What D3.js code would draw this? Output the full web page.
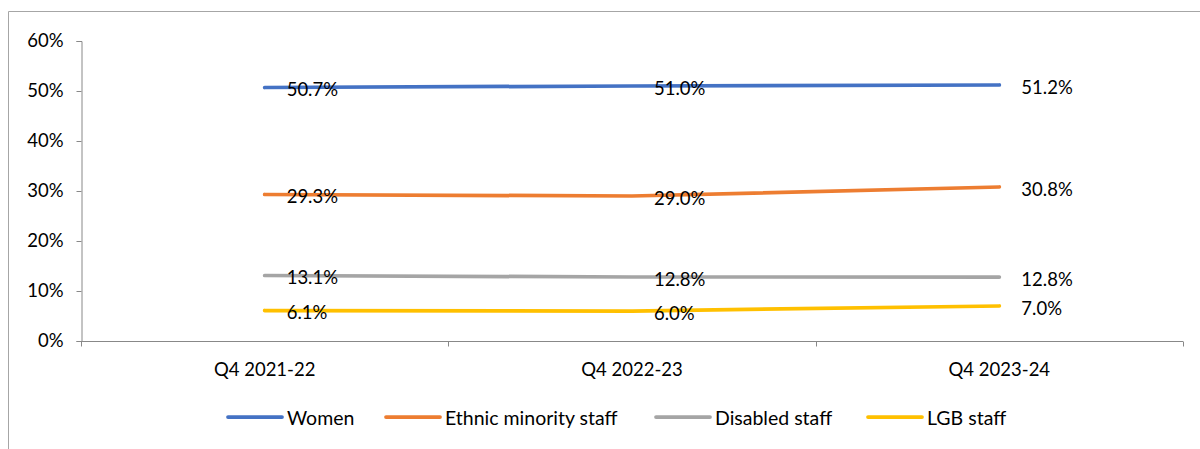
<!DOCTYPE html>
<html>
<head>
<meta charset="utf-8">
<script src="https://cdn.jsdelivr.net/npm/d3@7"></script>
<style>
  html, body { margin: 0; padding: 0; background: #fff; }
  svg { display: block; font-family: Lato, "Open Sans", sans-serif; }
</style>
</head>
<body>
<svg id="chart" width="1200" height="449"></svg>
<script>
// Staff representation by quarter
const categories = ["Q4 2021-22", "Q4 2022-23", "Q4 2023-24"];
const seriesNames = ["Women", "Ethnic minority staff", "Disabled staff", "LGB staff"];
const women = [50.7, 51.0, 51.2];
const ethnicMinority = [29.3, 29.0, 30.8];
const disabled = [13.1, 12.8, 12.8];
const lgb = [6.1, 6.0, 7.0];
const yTicks = [0, 10, 20, 30, 40, 50, 60];
const colors = ["#4472C4", "#ED7D31", "#A5A5A5", "#FFC000"];

const series = [women, ethnicMinority, disabled, lgb].map((values, i) => ({
  name: seriesNames[i], values, color: colors[i]
}));

const svg = d3.select("#chart");
const axisColor = "#888888";
const fontSize = 18.5;
const legendFontSize = 19.5;
const plot = { left: 81, right: 1183, top: 41, bottom: 341 };

// Outer chart frame (top and left edges visible)
svg.append("path")
  .attr("d", "M8.5,449 L8.5,11.5 L1200,11.5")
  .attr("fill", "none")
  .attr("stroke", "#a6a6a6")
  .attr("stroke-width", 1);

const x = d3.scaleBand().domain(categories).range([plot.left, plot.right]).padding(0);
const y = d3.scaleLinear().domain([0, 60]).range([plot.bottom, plot.top]);
const cx = c => x(c) + x.bandwidth() / 2;

// Y axis
const yAxis = svg.append("g")
  .attr("transform", `translate(${plot.left + 0.5},0)`)
  .call(d3.axisLeft(y).tickValues(yTicks).tickSize(5).tickPadding(13)
    .tickFormat(d => d + "%"));
yAxis.select(".domain").attr("stroke", axisColor);
yAxis.selectAll(".tick line").attr("stroke", axisColor);
yAxis.selectAll(".tick text").attr("fill", "#000").attr("font-size", fontSize)
  .attr("font-family", "Lato, sans-serif");

// X axis with ticks at category boundaries
const xg = svg.append("g").attr("transform", `translate(0,${plot.bottom + 0.5})`);
xg.append("line")
  .attr("x1", plot.left).attr("x2", plot.right)
  .attr("stroke", axisColor);
const boundaries = categories.map(c => x(c)).concat([x(categories[categories.length - 1]) + x.bandwidth()]);
xg.selectAll("line.tick").data(boundaries).enter().append("line")
  .attr("class", "tick")
  .attr("x1", d => Math.round(d) + 0.5).attr("x2", d => Math.round(d) + 0.5)
  .attr("y1", 0).attr("y2", 5)
  .attr("stroke", axisColor);
xg.selectAll("text").data(categories).enter().append("text")
  .attr("x", d => cx(d))
  .attr("y", 34)
  .attr("text-anchor", "middle")
  .attr("font-size", fontSize)
  .attr("fill", "#000")
  .text(d => d);

// Series lines
const line = d3.line()
  .x((d, i) => cx(categories[i]))
  .y(d => y(d));

svg.selectAll("path.series").data(series).enter().append("path")
  .attr("class", "series")
  .attr("d", d => line(d.values))
  .attr("fill", "none")
  .attr("stroke", d => d.color)
  .attr("stroke-width", 3.75)
  .attr("stroke-linecap", "round")
  .attr("stroke-linejoin", "round");

// Data labels
series.forEach(s => {
  svg.append("g").selectAll("text").data(s.values).enter().append("text")
    .attr("x", (d, i) => cx(categories[i]) + 22)
    .attr("y", d => y(d) + 1.5)
    .attr("dominant-baseline", "central")
    .attr("font-size", fontSize)
    .attr("fill", "#000")
    .text(d => d.toFixed(1) + "%");
});

// Legend
const legendItems = [
  { x: 228 }, { x: 386 }, { x: 656 }, { x: 868 }
];
const legend = svg.append("g").attr("transform", "translate(0,417)");
series.forEach((s, i) => {
  const lx = legendItems[i].x;
  legend.append("line")
    .attr("x1", lx).attr("x2", lx + 54)
    .attr("y1", 0).attr("y2", 0)
    .attr("stroke", s.color)
    .attr("stroke-width", 3.75)
    .attr("stroke-linecap", "round");
  legend.append("text")
    .attr("x", lx + 59)
    .attr("y", 0)
    .attr("dominant-baseline", "central")
    .attr("font-size", legendFontSize)
    .attr("fill", "#000")
    .text(s.name);
});
</script>
</body>
</html>
